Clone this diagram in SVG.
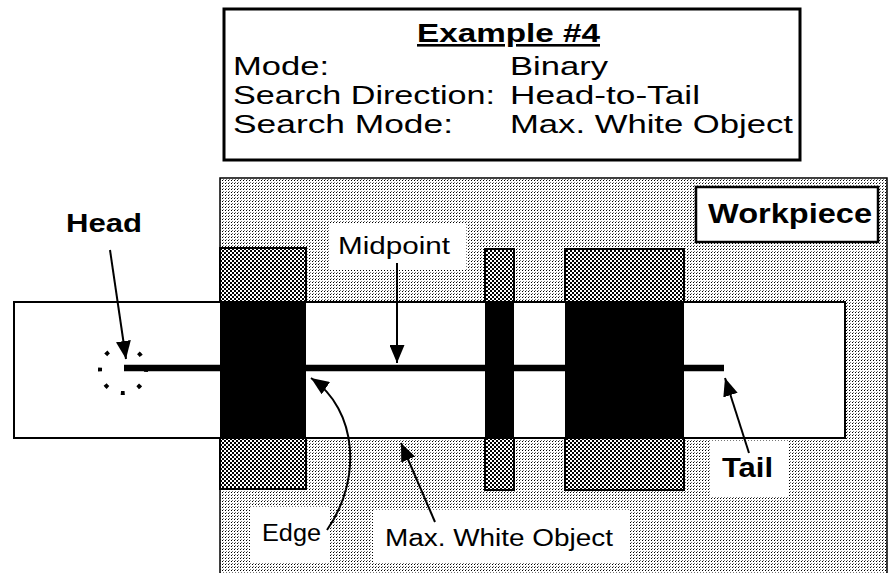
<svg xmlns="http://www.w3.org/2000/svg" width="889" height="573" viewBox="0 0 889 573">
<style>
  text { font-family: "Liberation Sans", Arial, sans-serif; fill: #000; }
  .t { font-size: 25px; }
  .b { font-weight: bold; }
  .s { font-size: 23px; }
  .conn { stroke: #000; stroke-width: 2; fill: none; marker-end: url(#ah); }
  .lab { fill: #fff; stroke: none; }
</style>
<defs>
  <pattern id="light" width="3" height="3" patternUnits="userSpaceOnUse">
    <rect width="3" height="3" fill="#fff"/>
    <rect x="0" y="0" width="1" height="1" fill="#000"/>
    <rect x="1" y="2" width="1" height="1" fill="#777"/>
  </pattern>
  <pattern id="dark" width="4" height="4" patternUnits="userSpaceOnUse">
    <rect width="4" height="4" fill="#fff"/>
    <rect x="0" y="0" width="2" height="2" fill="#000"/>
    <rect x="2" y="2" width="2" height="2" fill="#000"/>
  </pattern>
  <marker id="ah" markerUnits="userSpaceOnUse" markerWidth="18" markerHeight="15" refX="18" refY="7.5" orient="auto">
    <path d="M0,0 L18,7.5 L0,15 z" fill="#000"/>
  </marker>
</defs>

<g id="title-box">
  <rect x="224" y="9" width="576" height="151" fill="#fff" stroke="#000" stroke-width="3"/>
  <text class="b" x="417" y="42" font-size="26" text-decoration="underline" textLength="183" lengthAdjust="spacingAndGlyphs">Example #4</text>
  <text class="t" x="233" y="75" textLength="96" lengthAdjust="spacingAndGlyphs">Mode:</text>
  <text class="t" x="233" y="104" textLength="262" lengthAdjust="spacingAndGlyphs">Search Direction:</text>
  <text class="t" x="233" y="133" textLength="220" lengthAdjust="spacingAndGlyphs">Search Mode:</text>
  <text class="t" x="510" y="75" textLength="98" lengthAdjust="spacingAndGlyphs">Binary</text>
  <text class="t" x="510" y="104" textLength="190" lengthAdjust="spacingAndGlyphs">Head-to-Tail</text>
  <text class="t" x="510" y="133" textLength="283" lengthAdjust="spacingAndGlyphs">Max. White Object</text>
</g>

<g id="workpiece">
  <rect x="220" y="178" width="667" height="400" fill="url(#light)" stroke="#000" stroke-width="1.5"/>
  <rect x="696" y="187" width="182" height="55" fill="#fff" stroke="#000" stroke-width="2.5"/>
  <text class="b" x="708" y="223" font-size="27" textLength="164" lengthAdjust="spacingAndGlyphs">Workpiece</text>
</g>

<g id="blocks">
  <rect x="220" y="248" width="86" height="241" fill="url(#dark)" stroke="#000" stroke-width="2"/>
  <rect x="485" y="249" width="29" height="241" fill="url(#dark)" stroke="#000" stroke-width="2"/>
  <rect x="565" y="249" width="119" height="241" fill="url(#dark)" stroke="#000" stroke-width="2"/>
</g>

<g id="strip">
  <rect x="14" y="302" width="831" height="136" fill="#fff" stroke="#000" stroke-width="2"/>
  <rect x="220" y="302" width="86" height="136" fill="#000"/>
  <rect x="485" y="302" width="29" height="136" fill="#000"/>
  <rect x="565" y="302" width="119" height="136" fill="#000"/>
  <line x1="124" y1="368" x2="724" y2="368" stroke="#000" stroke-width="6.5"/>
</g>

<g id="head-point">
  <circle cx="123" cy="370" r="23" fill="none" stroke="#000" stroke-width="4" stroke-dasharray="4 14.06" stroke-dashoffset="2"/>
</g>

<g id="label-head">
  <text class="b" x="66" y="232" font-size="26" textLength="76" lengthAdjust="spacingAndGlyphs">Head</text>
</g>
<g id="label-midpoint">
  <rect class="lab" x="330" y="224" width="136" height="46"/>
  <text class="s" x="338" y="254" textLength="112" lengthAdjust="spacingAndGlyphs">Midpoint</text>
</g>
<g id="label-edge">
  <rect class="lab" x="250" y="507" width="80" height="56"/>
  <text class="s" x="262" y="541" textLength="59" lengthAdjust="spacingAndGlyphs">Edge</text>
</g>
<g id="label-maxwhite">
  <rect class="lab" x="373" y="510" width="257" height="53"/>
  <text class="s" x="385" y="546" textLength="228" lengthAdjust="spacingAndGlyphs">Max. White Object</text>
</g>
<g id="label-tail">
  <rect class="lab" x="710" y="441" width="78" height="56"/>
  <text class="b" x="722" y="477" font-size="27" textLength="51" lengthAdjust="spacingAndGlyphs">Tail</text>
</g>

<g id="connectors">
  <line class="conn" x1="110" y1="250" x2="126" y2="359"/>
  <line class="conn" x1="397" y1="263" x2="397" y2="363"/>
  <line class="conn" x1="749" y1="453" x2="725" y2="378"/>
  <line class="conn" x1="435" y1="522" x2="401" y2="443"/>
  <path class="conn" d="M327,530 C362,480 358,410 311,378"/>
</g>
</svg>
